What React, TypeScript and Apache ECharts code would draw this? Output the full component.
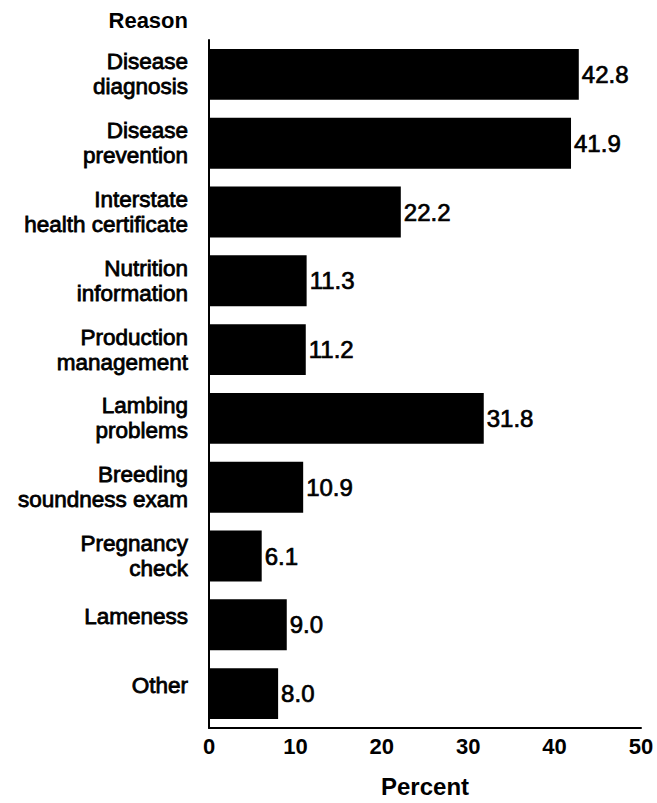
import React, { useEffect, useRef } from "react";
import * as echarts from "echarts";

const categories = [
  "Disease\ndiagnosis",
  "Disease\nprevention",
  "Interstate\nhealth certificate",
  "Nutrition\ninformation",
  "Production\nmanagement",
  "Lambing\nproblems",
  "Breeding\nsoundness exam",
  "Pregnancy\ncheck",
  "Lameness",
  "Other",
];
const percents = [42.8, 41.9, 22.2, 11.3, 11.2, 31.8, 10.9, 6.1, 9.0, 8.0];
const xTicks = { min: 0, max: 50, interval: 10 };
const yTitle = "Reason";
const xTitle = "Percent";

const FONT = "'Liberation Sans', Arial, Helvetica, sans-serif";

export default function App() {
  const ref = useRef<HTMLDivElement>(null);
  useEffect(() => {
    if (!ref.current) return;
    const chart = echarts.init(ref.current, null, { renderer: "svg" });
    chart.setOption({
      animation: false,
      backgroundColor: "#ffffff",
      grid: { left: 209, right: 16, top: 40, bottom: 69, containLabel: false },
      graphic: [
        {
          type: "text",
          x: 188,
          y: 20,
          style: {
            text: yTitle,
            fontFamily: FONT,
            fontSize: 22,
            fontWeight: "bold",
            fill: "#000",
            align: "right",
            verticalAlign: "middle",
          },
        },
      ],
      xAxis: {
        type: "value",
        min: xTicks.min,
        max: xTicks.max,
        interval: xTicks.interval,
        name: xTitle,
        nameLocation: "middle",
        nameGap: 46,
        nameTextStyle: { fontFamily: FONT, fontSize: 24, fontWeight: "bold", color: "#000" },
        axisLine: { show: true, lineStyle: { color: "#000", width: 2 } },
        axisTick: { show: false },
        splitLine: { show: false },
        axisLabel: {
          margin: 7,
          fontFamily: FONT,
          fontSize: 22,
          fontWeight: "bold",
          color: "#000",
        },
      },
      yAxis: {
        type: "category",
        inverse: true,
        data: categories,
        axisLine: { show: true, lineStyle: { color: "#000", width: 2 } },
        axisTick: { show: false },
        splitLine: { show: false },
        axisLabel: {
          margin: 21,
          align: "right",
          fontFamily: FONT,
          fontSize: 22.5,
          lineHeight: 25,
          color: "#000",
          textBorderColor: "#000",
          textBorderWidth: 0.8,
          formatter: (v: string) => (v.includes("\n") ? v : v + "\n{g| }"),
          rich: {
            g: { fontSize: 1, lineHeight: 16 },
          },
        },
      },
      series: [
        {
          type: "bar",
          data: percents,
          barCategoryGap: "26%",
          itemStyle: { color: "#000" },
          label: {
            show: true,
            position: "right",
            distance: 3,
            fontFamily: FONT,
            fontSize: 24,
            color: "#000",
            textBorderColor: "#000",
            textBorderWidth: 0.7,
            formatter: (p: any) => Number(p.value).toFixed(1),
          },
        },
      ],
    });
    return () => chart.dispose();
  }, []);
  return (
    <div
      ref={ref}
      style={{ position: "absolute", left: 0, top: 0, width: 657, height: 803 }}
    />
  );
}
